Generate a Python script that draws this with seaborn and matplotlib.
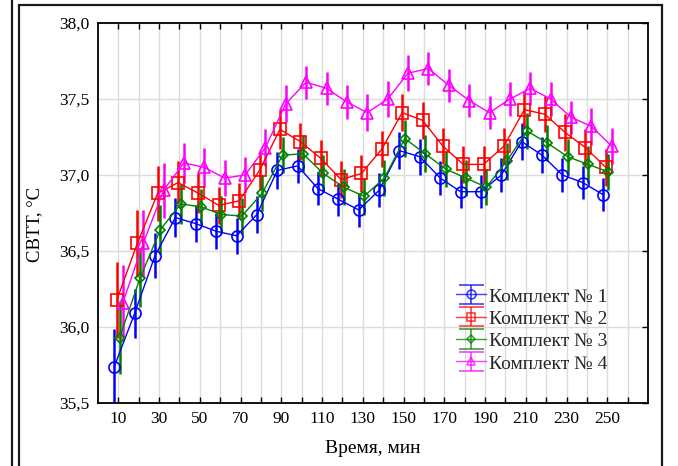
import numpy as np
import pandas as pd
import matplotlib
matplotlib.use("Agg")
import matplotlib.pyplot as plt
import seaborn as sns
from matplotlib.patches import Rectangle
from matplotlib.lines import Line2D

# ---------------- data ----------------
times = [10, 20, 30, 40, 50, 60, 70, 80, 90, 100, 110, 120, 130,
         140, 150, 160, 170, 180, 190, 200, 210, 220, 230, 240, 250]

series_names = ["Комплект № 1", "Комплект № 2", "Комплект № 3", "Комплект № 4"]

k1 = [35.74, 36.09, 36.47, 36.72, 36.68, 36.63, 36.60, 36.74, 37.03, 37.06, 36.91, 36.84, 36.77,
      36.90, 37.16, 37.12, 36.98, 36.89, 36.89, 37.00, 37.22, 37.13, 37.00, 36.95, 36.87]
k2 = [36.18, 36.55, 36.88, 36.95, 36.88, 36.80, 36.83, 37.03, 37.30, 37.22, 37.11, 36.97, 37.01,
      37.17, 37.41, 37.36, 37.19, 37.07, 37.07, 37.19, 37.43, 37.40, 37.28, 37.18, 37.05]
k3 = [35.93, 36.32, 36.64, 36.81, 36.79, 36.74, 36.73, 36.88, 37.13, 37.14, 37.01, 36.92, 36.86,
      36.98, 37.24, 37.14, 37.04, 36.98, 36.92, 37.09, 37.29, 37.21, 37.12, 37.07, 37.02]
k4 = [36.16, 36.55, 36.90, 37.08, 37.05, 36.98, 37.00, 37.18, 37.47, 37.61, 37.57, 37.48, 37.41,
      37.50, 37.67, 37.70, 37.59, 37.49, 37.41, 37.50, 37.57, 37.50, 37.38, 37.32, 37.19]

e1 = [0.25, 0.16, 0.15, 0.13, 0.12, 0.12, 0.12, 0.12, 0.12, 0.11, 0.11, 0.11, 0.11,
      0.11, 0.12, 0.12, 0.11, 0.11, 0.11, 0.11, 0.12, 0.12, 0.11, 0.11, 0.11]
e2 = [0.25, 0.22, 0.18, 0.14, 0.13, 0.12, 0.12, 0.13, 0.13, 0.12, 0.12, 0.12, 0.12,
      0.12, 0.12, 0.12, 0.12, 0.12, 0.12, 0.12, 0.12, 0.12, 0.12, 0.12, 0.12]
e3 = [0.24, 0.19, 0.16, 0.13, 0.12, 0.12, 0.12, 0.12, 0.12, 0.12, 0.12, 0.12, 0.12,
      0.12, 0.12, 0.12, 0.12, 0.12, 0.12, 0.12, 0.12, 0.12, 0.12, 0.12, 0.12]
e4 = [0.25, 0.22, 0.18, 0.13, 0.13, 0.12, 0.12, 0.12, 0.12, 0.11, 0.11, 0.11, 0.12,
      0.12, 0.12, 0.11, 0.11, 0.11, 0.11, 0.11, 0.11, 0.11, 0.11, 0.12, 0.12]

x_tick_values = [10, 30, 50, 70, 90, 110, 130, 150, 170, 190, 210, 230, 250]
x_tick_labels = ["10", "30", "50", "70", "90", "110", "130", "150", "170", "190", "210", "230", "250"]
y_tick_values = [35.5, 36.0, 36.5, 37.0, 37.5, 38.0]
y_tick_labels = ["35,5", "36,0", "36,5", "37,0", "37,5", "38,0"]

# ---------------- style ----------------
colors = ["#0000ff", "#ff0000", "#008000", "#ff00ff"]
markers = ["o", "s", "D", "^"]
msizes = [8, 8, 5.5, 8]
dodge = [-2.0, -0.7, 0.6, 2.2]

values = [k1, k2, k3, k4]
errors = [e1, e2, e3, e4]

rows = []
for name, vals, off in zip(series_names, values, dodge):
    for t, v in zip(times, vals):
        rows.append({"t": t + off, "val": v, "series": name})
df = pd.DataFrame(rows)

sns.set_theme(style="white")
plt.rcParams["font.family"] = ["Liberation Serif", "DejaVu Serif"]
plt.rcParams["mathtext.fontset"] = "dejavuserif"

fig = plt.figure(figsize=(6.78, 4.66), dpi=100)
ax = fig.add_axes([98 / 678, 1 - 403 / 466, (648 - 98) / 678, (403 - 23) / 466])

ax.set_xlim(0, 270)
ax.set_ylim(35.5, 38.0)
ax.set_xticks(x_tick_values)
ax.set_xticklabels(x_tick_labels)
ax.set_xticks([t for t in range(20, 270, 20)], minor=True)
ax.set_yticks(y_tick_values)
ax.set_yticklabels(y_tick_labels)
ax.grid(True, which="both", axis="x", color="#dcdcdc", lw=1.0, zorder=0)
ax.grid(True, which="major", axis="y", color="#dcdcdc", lw=1.0, zorder=0)
ax.set_axisbelow(True)

sns.lineplot(data=df, x="t", y="val", hue="series", style="series",
             palette=colors, markers=markers, dashes=False, lw=1.0,
             markerfacecolor="none", ax=ax, legend=False, sort=False,
             estimator=None, zorder=3)
for line, c, ms in zip(ax.lines, colors, msizes):
    line.set_markersize(ms)
    line.set_markeredgecolor(c)
    line.set_markerfacecolor("none")
    line.set_markeredgewidth(1.2)

for vals, errs, off, c in zip(values, errors, dodge, colors):
    ax.errorbar([t + off for t in times], vals, yerr=errs, fmt="none",
                ecolor=c, elinewidth=1.8, capsize=0, zorder=2)

# legend proxies (empty errorbar containers with line, marker and caps)
handles = []
for name, c, m, ms in zip(series_names, colors, markers, msizes):
    eb = ax.errorbar([np.nan], [np.nan], yerr=[np.nan], fmt="-" + m, color=c,
                     lw=1.0, ms=ms * 0.8, mfc="none", mec=c, mew=1.2,
                     ecolor=c, elinewidth=1.2, capsize=9, capthick=1.2,
                     alpha=0.75)
    handles.append(eb)

leg = ax.legend(handles, series_names, loc="upper left",
                bbox_to_anchor=((456 - 98) / 550, (403 - 287) / 380),
                frameon=False, fontsize=14, handlelength=1.55, handletextpad=0.15,
                labelspacing=0.18, borderaxespad=0, borderpad=0,
                handleheight=0.9)

for sp in ax.spines.values():
    sp.set_color("black")
    sp.set_linewidth(1.3)

ax.tick_params(axis="x", which="both", direction="in", top=True, bottom=True,
               length=4, width=1, colors="black", labelsize=12.5, pad=6)
ax.tick_params(axis="y", which="both", direction="in", left=False, right=True,
               length=4, width=1, colors="black", labelsize=12.5, pad=6)

ax.set_xlabel("Время, мин", fontsize=14, labelpad=9, color="black")
ax.set_ylabel("СВТТ, °С", fontsize=13.5, labelpad=10, color="black")
ax.yaxis.set_label_coords(-0.1, 0.47)

# outer frames
fig.add_artist(Rectangle((19 / 678, -0.05), (662 - 19) / 678, 1.05 - 5 / 466,
                         transform=fig.transFigure, fill=False, lw=1.6,
                         edgecolor="#1a1a1a"))
fig.add_artist(Line2D([12 / 678, 12 / 678], [0, 1], transform=fig.transFigure,
                      color="#1a1a1a", lw=1.6))

fig.savefig("out.png", dpi=100)
